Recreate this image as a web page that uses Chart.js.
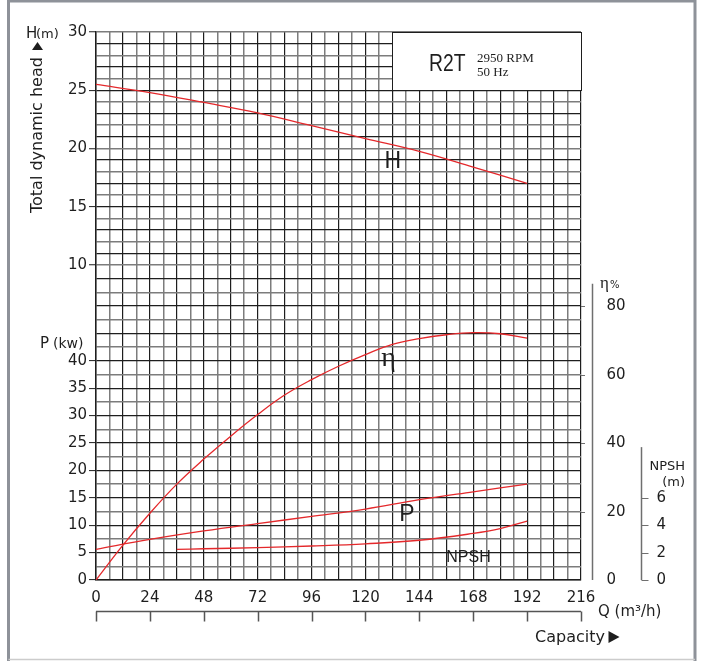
<!DOCTYPE html>
<html>
<head>
<meta charset="utf-8">
<script src="https://cdn.jsdelivr.net/npm/chart.js@4.4.1/dist/chart.umd.min.js"></script>
<style>
  html, body { margin: 0; padding: 0; background: #fff; }
  canvas { display: block; }
</style>
</head>
<body>
<canvas id="chart" width="702" height="661"></canvas>
<script>
const RED = '#e4282b';
const DARK = '#1e1e1e';
const GREY = '#7c7c7c';
const FRAME = '#8e9299';
const SANS = '"DejaVu Sans", Verdana, sans-serif';

// capacity Q (m3/h)
const Q_LABELS = [0, 24, 48, 72, 96, 120, 144, 168, 192, 216];
const Q_GRID_STEP = 6;

// head H (m)
const H_Q = [0, 24, 48, 72, 96, 120, 144, 168, 192];
const H_VALS = [25.5, 24.8, 23.95, 23.05, 21.95, 20.85, 19.75, 18.4, 17.0];

// efficiency (%)
const ETA_Q = [0, 12, 24, 36, 48, 60, 72, 84, 96, 108, 120, 132, 144, 156, 168, 180, 192];
const ETA_VALS = [0, 10.2, 19.5, 28, 35.3, 42, 48.3, 54, 58.5, 62.4, 65.8, 68.8, 70.5, 71.6, 72.2, 71.9, 70.6];

// shaft power P (kw)
const P_Q = [0, 24, 48, 72, 96, 120, 144, 168, 192];
const P_VALS = [5.6, 7.4, 8.95, 10.3, 11.6, 12.95, 14.65, 16.1, 17.5];

// NPSH (m)
const NPSH_Q = [36, 48, 72, 96, 120, 144, 168, 180, 192];
const NPSH_VALS = [2.24, 2.28, 2.36, 2.48, 2.64, 2.9, 3.4, 3.75, 4.3];

// axis ticks
const P_TICKS = [0, 5, 10, 15, 20, 25, 30, 35, 40];
const H_TICKS = [10, 15, 20, 25, 30];
const ETA_TICKS = [0, 20, 40, 60, 80];
const NPSH_TICKS = [0, 2, 4, 6];

// the left scale is in kw; the head scale sits on top of it
const P_MAX = 100, P_SPLIT = 57.5, P_GRID_STEP = 2.5;
const H_MAX = 30, H_SPLIT = 10, H_GRID_STEP = 1;
const H_PER_P = (H_MAX - H_SPLIT) / (P_MAX - P_SPLIT);
const H_MIN = H_SPLIT - P_SPLIT * H_PER_P;
const hToP = (h) => P_SPLIT + (h - H_SPLIT) / H_PER_P;

const pts = (xs, ys) => xs.map((x, i) => ({ x, y: ys[i] }));

function curve(data, axis) {
  return {
    data,
    yAxisID: axis,
    borderColor: RED,
    borderWidth: 1.3,
    pointRadius: 0,
    fill: false,
    tension: 0.4,
  };
}

function text(ctx, str, x, y, font, align = 'left', base = 'alphabetic', color = DARK) {
  ctx.font = font;
  ctx.fillStyle = color;
  ctx.textAlign = align;
  ctx.textBaseline = base;
  ctx.fillText(str, x, y);
}

function triangle(ctx, x, y, w, h, up) {
  ctx.beginPath();
  if (up) {
    ctx.moveTo(x - w / 2, y + h / 2);
    ctx.lineTo(x + w / 2, y + h / 2);
    ctx.lineTo(x, y - h / 2);
  } else {
    ctx.moveTo(x - w / 2, y - h / 2);
    ctx.lineTo(x - w / 2, y + h / 2);
    ctx.lineTo(x + w / 2, y);
  }
  ctx.closePath();
  ctx.fillStyle = DARK;
  ctx.fill();
}

const decor = {
  id: 'decor',
  beforeDraw(chart) {
    const { ctx, width, height } = chart;
    ctx.save();
    ctx.fillStyle = '#fff';
    ctx.fillRect(0, 0, width, height);
    ctx.restore();
  },
  beforeDatasetsDraw(chart) {
    // title block covering the top-right corner of the grid
    const { ctx, scales: { x, yH } } = chart;
    const l = Math.round(x.getPixelForValue(132)), r = Math.round(x.getPixelForValue(216));
    const t = Math.round(yH.getPixelForValue(30)), b = Math.round(yH.getPixelForValue(25));
    ctx.save();
    ctx.fillStyle = '#fff';
    ctx.fillRect(l, t, r - l, b - t);
    ctx.strokeStyle = DARK;
    ctx.lineWidth = 1;
    ctx.strokeRect(l + 0.5, t + 0.5, r - l, b - t);
    ctx.save();
    ctx.translate(l + 37, b - 19);
    ctx.scale(0.84, 1);
    text(ctx, 'R2T', 0, 0, '23px "Liberation Sans", Arial, sans-serif');
    ctx.restore();
    text(ctx, '2950 RPM', l + 85, b - 28, '13px "Liberation Serif", "Times New Roman", serif');
    text(ctx, '50 Hz', l + 85, b - 14, '13px "Liberation Serif", "Times New Roman", serif');
    ctx.restore();
  },
  afterDraw(chart) {
    const { ctx, chartArea: area, scales: { x, yH, yP, eta, npsh } } = chart;
    ctx.save();

    // curve names
    text(ctx, 'H', x.getPixelForValue(128.5), yH.getPixelForValue(18.3), '23px "Liberation Sans", Arial, sans-serif');
    text(ctx, 'η', x.getPixelForValue(127), eta.getPixelForValue(62.5), '28px "Liberation Serif", serif');
    text(ctx, 'P', x.getPixelForValue(135), yP.getPixelForValue(10.7), '23px "Liberation Sans", Arial, sans-serif');
    text(ctx, 'NPSH', x.getPixelForValue(156), npsh.getPixelForValue(1.3), '16px "Liberation Sans", Arial, sans-serif');

    // left axis titles
    text(ctx, 'H', 26, 38, '15px ' + SANS);
    text(ctx, '(m)', 36, 38, '13px ' + SANS);
    text(ctx, 'P', 40, 348, '15px ' + SANS);
    text(ctx, '(kw)', 53, 348, '14px ' + SANS);
    ctx.save();
    ctx.translate(42, 213);
    ctx.rotate(-Math.PI / 2);
    text(ctx, 'Total dynamic head', 0, 0, '16px ' + SANS);
    ctx.restore();
    triangle(ctx, 37.5, 46, 11, 8, true);

    // efficiency axis
    const ex = area.right + 11.5;
    ctx.strokeStyle = '#6f6f6f';
    ctx.lineWidth = 1.5;
    ctx.beginPath();
    ctx.moveTo(ex, eta.getPixelForValue(86.5));
    ctx.lineTo(ex, eta.getPixelForValue(0));
    ctx.stroke();
    ctx.lineWidth = 1;
    ETA_TICKS.forEach((v) => {
      const y = Math.round(eta.getPixelForValue(v)) + 0.5;
      if (v > 0) {
        ctx.beginPath();
        ctx.moveTo(area.right, y);
        ctx.lineTo(area.right + 4, y);
        ctx.stroke();
      }
      text(ctx, String(v), ex + 14, y, '15px ' + SANS, 'left', 'middle');
    });
    text(ctx, 'η', area.right + 19, eta.getPixelForValue(86.5) + 4, '17px "Liberation Serif", serif');
    text(ctx, '%', area.right + 29, eta.getPixelForValue(86.5) + 4, '10px ' + SANS);

    // NPSH axis
    const nx = area.right + 60.5;
    ctx.lineWidth = 1.5;
    ctx.beginPath();
    ctx.moveTo(nx, npsh.getPixelForValue(9.7));
    ctx.lineTo(nx, npsh.getPixelForValue(0));
    ctx.stroke();
    ctx.lineWidth = 1;
    NPSH_TICKS.forEach((v) => {
      const y = Math.round(npsh.getPixelForValue(v)) + 0.5;
      ctx.beginPath();
      ctx.moveTo(nx, y);
      ctx.lineTo(nx + 7, y);
      ctx.stroke();
      text(ctx, String(v), nx + 15, y, '15px ' + SANS, 'left', 'middle');
    });
    text(ctx, 'NPSH', 685, 470, '13px ' + SANS, 'right');
    text(ctx, '(m)', 685, 486, '13px ' + SANS, 'right');

    // capacity ruler under the tick labels
    const ry = area.bottom + 31.5;
    ctx.strokeStyle = '#555';
    ctx.lineWidth = 1.5;
    ctx.beginPath();
    ctx.moveTo(x.getPixelForValue(0), ry);
    ctx.lineTo(x.getPixelForValue(216), ry);
    Q_LABELS.forEach((q) => {
      const px = Math.round(x.getPixelForValue(q)) + 0.5;
      ctx.moveTo(px, ry);
      ctx.lineTo(px, ry + 10);
    });
    ctx.stroke();
    text(ctx, 'Q (m³/h)', 598, 616, '15px ' + SANS);
    text(ctx, 'Capacity', 535, 642, '16px ' + SANS);
    triangle(ctx, 614, 637, 11, 12, false);

    // outer frame
    ctx.strokeStyle = FRAME;
    ctx.lineWidth = 3;
    ctx.beginPath();
    ctx.moveTo(8.5, 661);
    ctx.lineTo(8.5, 1);
    ctx.lineTo(695, 1);
    ctx.lineTo(695, 661);
    ctx.stroke();
    ctx.strokeStyle = '#cccccc';
    ctx.lineWidth = 1.5;
    ctx.beginPath();
    ctx.moveTo(8.5, 659.5);
    ctx.lineTo(695, 659.5);
    ctx.stroke();
    ctx.restore();
  },
};

const gridColor = (c) => (c.index % 2 ? GREY : DARK);
const gridWidth = (c) => (c.index % 2 ? 1.5 : 1.2);

new Chart(document.getElementById('chart'), {
  type: 'line',
  data: {
    datasets: [
      curve(pts(H_Q, H_VALS), 'yH'),
      curve(pts(ETA_Q, ETA_VALS), 'eta'),
      curve(pts(P_Q, P_VALS), 'yP'),
      curve(pts(NPSH_Q, NPSH_VALS), 'npsh'),
    ],
  },
  options: {
    responsive: false,
    animation: false,
    devicePixelRatio: 1,
    layout: { padding: { top: 32, right: 121, left: 0, bottom: 0 } },
    plugins: { legend: { display: false }, tooltip: { enabled: false } },
    scales: {
      x: {
        type: 'linear',
        min: 0,
        max: 216,
        afterBuildTicks: (s) => {
          const t = [];
          for (let q = 0; q <= 216; q += Q_GRID_STEP) t.push({ value: q });
          s.ticks = t;
        },
        afterFit: (s) => { s.height = 81; },
        ticks: {
          autoSkip: false,
          maxRotation: 0,
          padding: 9,
          color: DARK,
          font: { family: SANS, size: 15 },
          callback: (v) => (Q_LABELS.includes(v) ? String(v) : ''),
        },
        grid: { color: gridColor, lineWidth: gridWidth, drawTicks: false },
        border: { color: DARK, width: 1.5 },
      },
      yP: {
        type: 'linear',
        position: 'left',
        min: 0,
        max: P_MAX,
        afterBuildTicks: (s) => {
          const t = [];
          for (let p = 0; p <= P_SPLIT + 1e-9; p += P_GRID_STEP) {
            t.push({ value: p, lab: P_TICKS.includes(p) ? String(p) : '' });
          }
          for (let h = H_SPLIT + H_GRID_STEP; h <= H_MAX; h += H_GRID_STEP) {
            t.push({ value: hToP(h), lab: H_TICKS.includes(h) ? String(h) : '' });
          }
          t[t.length - (H_MAX - H_SPLIT) - 1].lab = String(H_SPLIT);
          s.ticks = t;
        },
        afterFit: (s) => { s.width = 96; },
        ticks: {
          autoSkip: false,
          padding: 2,
          color: DARK,
          font: { family: SANS, size: 15 },
          callback: (v, i, ticks) => ticks[i].lab,
        },
        grid: {
          color: gridColor,
          lineWidth: gridWidth,
          tickLength: 7,
          tickColor: (c) => (c.tick && c.tick.lab ? DARK : 'rgba(0,0,0,0)'),
          tickWidth: 1,
        },
        border: { color: DARK, width: 1.5 },
      },
      yH: { type: 'linear', display: false, position: 'left', min: H_MIN, max: H_MAX },
      eta: { type: 'linear', display: false, position: 'right', min: 0, max: 160 },
      npsh: { type: 'linear', display: false, position: 'right', min: 0, max: 40 },
    },
  },
  plugins: [decor],
});
</script>
</body>
</html>
